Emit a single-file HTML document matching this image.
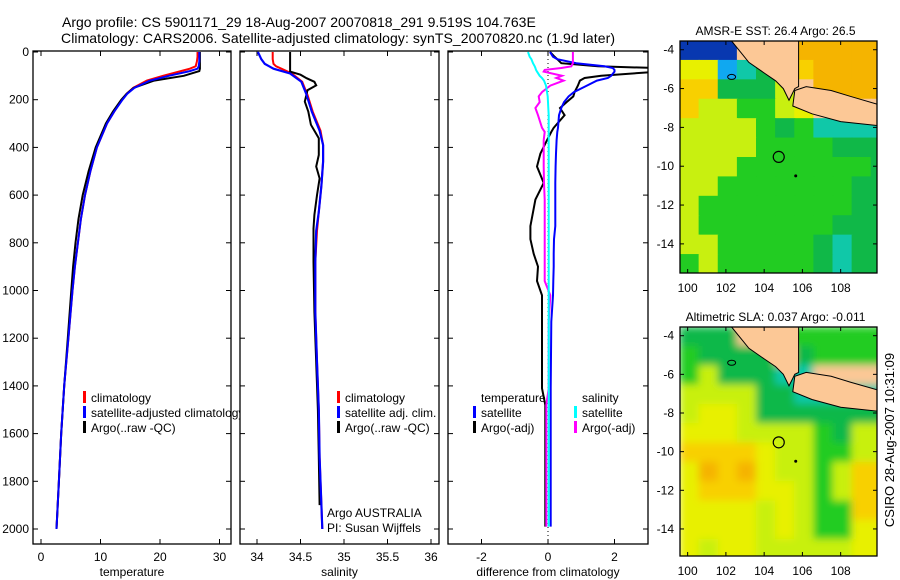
<!DOCTYPE html>
<html><head><meta charset="utf-8"><style>
body{margin:0;background:#fff}
svg{display:block;font-family:"Liberation Sans",sans-serif}
text{fill:#000}
</style></head><body>
<svg id="fig" width="900" height="580" viewBox="0 0 900 580" xmlns="http://www.w3.org/2000/svg">
<defs>
<clipPath id="c1"><rect x="33" y="51" width="198" height="493"/></clipPath>
<clipPath id="c2"><rect x="240" y="51" width="199" height="493"/></clipPath>
<clipPath id="c3"><rect x="448" y="51" width="200" height="493"/></clipPath>
<clipPath id="cm1"><rect x="680" y="41" width="197" height="232"/></clipPath>
<clipPath id="cm2"><rect x="680" y="327" width="197" height="229"/></clipPath>
<filter id="blur" x="0" y="0" width="1" height="1"><feGaussianBlur stdDeviation="4" edgeMode="duplicate"/></filter>
</defs>
<text x="62" y="27" font-size="14">Argo profile: CS 5901171_29 18-Aug-2007 20070818_291 9.519S 104.763E</text>
<text x="61" y="43" font-size="14" textLength="554">Climatology: CARS2006. Satellite-adjusted climatology: synTS_20070820.nc (1.9d later)</text>
<g id="root"></g>
<text transform="translate(894,440) rotate(-90)" text-anchor="middle" font-size="13">CSIRO 28-Aug-2007 10:31:09</text>
</svg>
<script>
// ---------- data ----------
const tDepth = [0,20,40,60,70,80,100,120,150,175,200,250,300,400,500,600,700,800,900,1000,1200,1400,1600,1800,2000];
const tClim  = [26.3,26.3,26.2,26.0,25.0,23.5,20.5,17.8,15.5,14.4,13.6,12.3,11.1,9.4,8.3,7.4,6.7,6.2,5.7,5.3,4.6,3.9,3.4,3.0,2.6];
const tSat   = [26.6,26.6,26.6,26.5,26.3,25.0,21.5,18.3,15.7,14.5,13.7,12.3,11.1,9.4,8.3,7.4,6.7,6.2,5.7,5.3,4.6,3.9,3.4,3.0,2.6];
const tArgo  = [26.7,26.7,26.7,26.7,26.7,26.6,24.0,19.0,15.6,14.4,13.5,12.1,10.9,9.2,8.0,7.0,6.3,5.8,5.4,5.1,4.5,3.9,3.4,3.0,2.6];

const sDepth = [0,30,50,60,70,90,125,180,250,330,390,460,560,670,750,880,1090,1300,1500,1700,1900,2000];
const sClim  = [34.18,34.18,34.19,34.22,34.28,34.40,34.52,34.58,34.64,34.73,34.76,34.76,34.74,34.71,34.69,34.67,34.67,34.69,34.71,34.72,34.74,34.75];
const sSat   = [34.01,34.05,34.09,34.14,34.19,34.38,34.51,34.57,34.63,34.72,34.76,34.76,34.74,34.71,34.68,34.67,34.67,34.69,34.71,34.72,34.74,34.75];
const aDepth = [0,40,82,95,110,125,140,160,208,250,305,362,432,480,530,600,683,740,880,1090,1300,1500,1700,1900];
const sArgo  = [34.38,34.38,34.38,34.50,34.57,34.66,34.68,34.58,34.55,34.59,34.62,34.71,34.71,34.68,34.72,34.69,34.66,34.65,34.65,34.66,34.68,34.70,34.71,34.72];

const dDepth = [0,20,30,47,60,67,75,82,100,109,120,141,168,186,210,235,265,318,335,370,426,480,549,619,730,785,846,900,960,1020,1130,1410,1480,1900,1990];
const dTSat  = [0.06,0.15,0.28,0.85,1.70,1.95,2.00,2.00,1.90,1.80,1.47,1.17,0.78,0.62,0.48,0.40,0.33,0.30,0.28,0.26,0.24,0.23,0.22,0.22,0.22,0.18,0.17,0.17,0.16,0.15,0.10,0.08,0.08,0.08,0.08];
const dTArgo = [0.06,0.20,0.28,0.40,1.50,3.20,3.40,3.30,1.60,1.10,0.96,0.90,0.80,0.76,0.56,0.36,0.50,0.17,0.10,-0.03,-0.23,-0.33,-0.13,-0.38,-0.53,-0.53,-0.43,-0.30,-0.33,-0.18,-0.18,-0.18,-0.08,-0.08,-0.08];
const dSSat  = [-0.60,-0.55,-0.50,-0.45,-0.40,-0.38,-0.36,-0.33,-0.25,-0.18,-0.12,-0.06,-0.03,-0.01,0.00,0.01,0.02,0.02,0.02,0.02,0.02,0.02,0.02,0.02,0.02,0.02,0.02,0.02,0.02,0.02,0.02,0.02,0.02,0.02,0.02];
const dSArgo = [0.75,0.75,0.75,0.75,0.70,0.40,-0.10,-0.13,0.42,0.25,0.47,0.07,-0.18,-0.28,-0.25,-0.38,-0.30,-0.18,-0.10,-0.13,-0.13,-0.13,-0.12,-0.10,-0.10,-0.10,-0.10,-0.10,-0.10,0.07,0.02,0.02,-0.05,-0.05,-0.05];

const tTicks = [0,10,20,30];
const sTicks = [34,34.5,35,35.5,36];
const sTickLabels = ["34","34.5","35","35.5","36"];
const dTicks = [-2,0,2];
const depthTicks = [0,200,400,600,800,1000,1200,1400,1600,1800,2000];
const lonTicks = [100,102,104,106,108];
const latTicks = [-4,-6,-8,-10,-12,-14];

// map grids (rows = 1deg lat bands from top, cols = 1deg lon bands from 99.6E)
const sstGrid = ["BBBlllooooo","yybcGlOoooo","OOGGGYloooo","OYYggYylllll","YYYYgGgcccc","YYYYggggGGG","YYYgggggggG","YYgggggggGG","YggggggggGG","YgggggggGGG","YYgggggGcGG","gYgggggGcGG","gggggggGcGG"];
const slaGrid = ["GGGllgggggg","gGGGGlGgggg","gYGGGccllll","YYYYGGccccc","YyyYGGGGGGG","yyyYYYYgGYY","OOOOyYYggYY","yoOoyYYgYOO","yOOOyyYgYOO","yyyyYyYggOO","yyyyYyYggyy","yYyyYYYYYyy","yYyyYYYYYyy"];
const sumatra = [[102.3,-3.55],[103.2,-4.65],[104.0,-5.2],[104.6,-5.6],[105.0,-6.0],[105.3,-6.6],[105.6,-6.0],[105.8,-5.9],[105.8,-3.55]];
const java = [[105.6,-6.1],[106.2,-5.9],[107.5,-6.1],[108.5,-6.4],[109.9,-6.8],[109.9,-7.9],[108,-7.7],[106.5,-7.3],[105.5,-6.9]];
const argoPos = [104.763,-9.519];

// ---------- helpers ----------
const NS="http://www.w3.org/2000/svg";
const root=document.getElementById('root');
function mk(tag,attrs,parent){const e=document.createElementNS(NS,tag);for(const k in attrs)e.setAttribute(k,attrs[k]);(parent||root).appendChild(e);return e;}
const yD = d => 52 + d*0.2385;
function line(xs,ds,sx,color,w,clip,name){
  const pts=xs.map((v,i)=>sx(v).toFixed(1)+","+yD(ds[i]).toFixed(1)).join(" ");
  const p=mk('polyline',{points:pts,fill:'none',stroke:color,'stroke-width':w,'clip-path':'url(#'+clip+')'});
  
  
}
function panel(x0,x1,ticks,labels,sx,title,clip,name,showDepth){
  const g=mk('g',{});
  
  
  mk('rect',{x:x0,y:51,width:x1-x0,height:493,fill:'#fff',stroke:'#000','stroke-width':1.3},g);
  ticks.forEach((t,i)=>{
    const x=sx(t);
    mk('line',{x1:x,x2:x,y1:544,y2:539,stroke:'#000'},g);
    mk('line',{x1:x,x2:x,y1:51,y2:56,stroke:'#000'},g);
    const tx=mk('text',{x:x,y:561,'text-anchor':'middle','font-size':12},g);tx.textContent=labels[i];
    
    
  });
  depthTicks.forEach(d=>{
    const y=yD(d);
    mk('line',{x1:x0,x2:x0+5,y1:y,y2:y,stroke:'#000'},g);
    mk('line',{x1:x1,x2:x1-5,y1:y,y2:y,stroke:'#000'},g);
    if(showDepth){const t=mk('text',{x:x0-4,y:y+4,'text-anchor':'end','font-size':12},g);t.textContent=d;
      
      }
  });
  const tt=mk('text',{x:(x0+x1)/2,y:576,'text-anchor':'middle','font-size':12},g);tt.textContent=title;
  
  
}
function legend(x,y,items,name){
  items.forEach((it,i)=>{
    const yy=y+i*15;
    if(it[0]){const r=mk('rect',{x:x,y:yy-6,width:3,height:12,fill:it[0]});
      
      }
    const t=mk('text',{x:x+8,y:yy+5,'font-size':12});t.textContent=it[1];
    
    
  });
}

// ---------- panel 1: temperature ----------
const sxT=v=>41+v*5.95;
panel(33,231,tTicks,tTicks.map(String),sxT,'temperature','c1','temperature-panel',true);
line(tClim,tDepth,sxT,'#f00',2,'c1','temp-climatology-line');
line(tArgo,tDepth,sxT,'#000',2,'c1','temp-argo-line');
line(tSat,tDepth,sxT,'#00f',2,'c1','temp-satellite-line');
legend(83,397,[['#f00','climatology'],['#00f','satellite-adjusted climatology'],['#000','Argo(..raw -QC)']],'temp-legend');

// ---------- panel 2: salinity ----------
const sxS=v=>257+(v-34)*87;
panel(240,439,sTicks,sTickLabels,sxS,'salinity','c2','salinity-panel',false);
line(sClim,sDepth,sxS,'#f00',2,'c2','sal-climatology-line');
line(sArgo,aDepth,sxS,'#000',2,'c2','sal-argo-line');
line(sSat,sDepth,sxS,'#00f',2.2,'c2','sal-satellite-line');
legend(337,397,[['#f00','climatology'],['#00f','satellite adj. clim.'],['#000','Argo(..raw -QC)']],'sal-legend');
const a1=mk('text',{x:327,y:517,'font-size':12});a1.textContent='Argo AUSTRALIA';


const a2=mk('text',{x:327,y:532,'font-size':12});a2.textContent='PI: Susan Wijffels';



// ---------- panel 3: differences ----------
const sxD=v=>548+v*33.25;
panel(448,648,dTicks,dTicks.map(String),sxD,'difference from climatology','c3','difference-panel',false);
mk('line',{x1:548,x2:548,y1:51,y2:544,stroke:'#000','stroke-dasharray':'1,3'});
line(dTArgo,dDepth,sxD,'#000',2,'c3','diff-temp-argo-line');
line(dTSat,dDepth,sxD,'#00f',2,'c3','diff-temp-satellite-line');
line(dSArgo,dDepth,sxD,'#f0f',2,'c3','diff-sal-argo-line');
line(dSSat,dDepth,sxD,'#0ff',2,'c3','diff-sal-satellite-line');
legend(473,397,[[null,'temperature'],['#00f','satellite'],['#000','Argo(-adj)']],'diff-temp-legend');
legend(574,397,[[null,'salinity'],['#0ff','satellite'],['#f0f','Argo(-adj)']],'diff-sal-legend');

// ---------- maps ----------
const COL={B:'#0838b0',b:'#10a8f0',c:'#10c8a8',g:'#22cc22',G:'#10b848',y:'#e8f000',Y:'#c8f010',O:'#f8d000',o:'#f5b400',l:'#fcc896'};
function map(top,bot,latTop,latBot,grid,title,clip,name,blur){
  const x0=680,x1=877,lonL=99.6,lonR=109.9;
  const sx=l=>x0+(l-lonL)/(lonR-lonL)*(x1-x0);
  const sy=l=>top+(latTop-l)/(latTop-latBot)*(bot-top);
  const g=mk('g',{});
  
  
  const cg=mk('g',{'clip-path':'url(#'+clip+')'},g);
  const fg=mk('g',blur?{filter:'url(#blur)'}:{},cg);
  grid.forEach((row,r)=>{
    for(let c=0;c<row.length;c++){
      const la0=latTop-r, lo0=lonL+c;
      const rc=mk('rect',{x:sx(lo0)-0.5,y:sy(la0)-0.5,width:sx(lo0+1)-sx(lo0)+1,height:sy(la0-1)-sy(la0)+1,fill:COL[row[c]]||'#22cc22'},fg);
      
      
    }
  });
  [sumatra,java].forEach((poly,i)=>{
    const p=mk('polygon',{points:poly.map(q=>sx(q[0]).toFixed(1)+','+sy(q[1]).toFixed(1)).join(' '),fill:'#fcc896',stroke:'#000','stroke-width':1},cg);
    
    
  });
  const ci=mk('circle',{cx:sx(argoPos[0]),cy:sy(argoPos[1]),r:5.5,fill:'none',stroke:'#000','stroke-width':1.2},g);
  
  
  mk('circle',{cx:sx(105.65),cy:sy(-10.5),r:1.5,fill:'#000'},g);
  mk('ellipse',{cx:sx(102.3),cy:sy(-5.4),rx:4,ry:2.5,fill:'none',stroke:'#000'},g);
  mk('rect',{x:x0,y:top,width:x1-x0,height:bot-top,fill:'none',stroke:'#000','stroke-width':1.3},g);
  lonTicks.forEach(l=>{const x=sx(l);
    mk('line',{x1:x,x2:x,y1:bot,y2:bot-4,stroke:'#000'},g);mk('line',{x1:x,x2:x,y1:top,y2:top+4,stroke:'#000'},g);
    const t=mk('text',{x:x,y:bot+19,'text-anchor':'middle','font-size':12},g);t.textContent=l;
    
    });
  latTicks.forEach(l=>{const y=sy(l);
    mk('line',{x1:x0,x2:x0+4,y1:y,y2:y,stroke:'#000'},g);mk('line',{x1:x1,x2:x1-4,y1:y,y2:y,stroke:'#000'},g);
    const t=mk('text',{x:x0-6,y:y+4,'text-anchor':'end','font-size':12},g);t.textContent=l;
    
    });
  const tt=mk('text',{x:(x0+x1)/2-3,y:top-6,'text-anchor':'middle','font-size':12},g);tt.textContent=title;
  
  
}
map(41,273,-3.55,-15.5,sstGrid,'AMSR-E SST: 26.4 Argo: 26.5','cm1','sst-map',false);
map(327,556,-3.55,-15.4,slaGrid,'Altimetric SLA: 0.037 Argo: -0.011','cm2','sla-map',true);
</script>
</body></html>
